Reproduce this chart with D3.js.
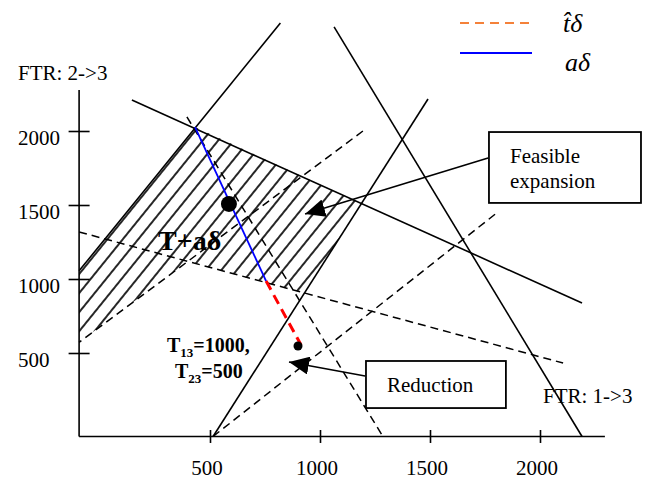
<!DOCTYPE html>
<html>
<head>
<meta charset="utf-8">
<script src="https://cdn.jsdelivr.net/npm/d3@7"></script>
<style>
    body { margin: 0; background: #fff; }
    svg { display: block; }
</style>
</head>
<body>
<svg id="chart" width="647" height="491" font-family="'Liberation Serif', 'DejaVu Serif', 'Times New Roman', Times, serif"></svg>
<script>
// tick values on both FTR axes
var xTicks = [500, 1000, 1500, 2000],
    yTicks = [500, 1000, 1500, 2000];

// constraint lines, [x1, y1, x2, y2] in FTR units (1->3, 2->3)
var solidLines = [
    [820, 2730, -95, 1055],
    [1064, 2703, 2191, -64],
    [145, 2209, 2191, 838],
    [1491, 2216, 514, -64]
];
var dashedLines = [
    [1195, 2000, -95, 572],
    [395, 2095, 1286, -64],
    [-95, 1318, 2105, 432],
    [514, -64, 1809, 1453]
];

// hatched feasible region
var feasibleRegion = [[-95, 1055], [432, 2027], [1188, 1510], [928, 904], [398, 1118], [-95, 572]];

// a*delta (blue) and t^*delta (red) segments
var aDelta = [[432, 2027], [755, 986]],
    tDelta = [[755, 986], [914, 554]];

var bigPoint = [586, 1507],
    smallPoint = [900, 547];

// annotation boxes [x1, y1, x2, y2] and their arrows
var expansionBox = [1768, 1993, 2459, 1514],
    reductionBox = [1209, 446, 1845, 128],
    expansionArrow = [[1764, 1818], [932, 1439]],
    reductionArrow = [[1205, 345], [859, 439]];

var axisMin = [-95, -64],
    axisMax = [2295, 2277];

var svg = d3.select("#chart");

var x = d3.scaleLinear().domain([500, 2000]).range([210, 540]),
    y = d3.scaleLinear().domain([500, 2000]).range([353, 131]);

var defs = svg.append("defs");

defs.append("pattern")
    .attr("id", "hatch")
    .attr("patternUnits", "userSpaceOnUse")
    .attr("width", 12)
    .attr("height", 12)
    .attr("patternTransform", "rotate(-51)")
    .append("line")
    .attr("x1", -1).attr("y1", 6)
    .attr("x2", 13).attr("y2", 6)
    .attr("stroke", "#000")
    .attr("stroke-width", 1.7);

defs.append("marker")
    .attr("id", "head")
    .attr("markerUnits", "userSpaceOnUse")
    .attr("viewBox", "0 0 20 18")
    .attr("refX", 20).attr("refY", 9)
    .attr("markerWidth", 20).attr("markerHeight", 18)
    .attr("orient", "auto")
    .append("path")
    .attr("d", "M0,0L20,9L0,18Z")
    .attr("fill", "#000");

var line = d3.line().x(function (d) { return x(d[0]); }).y(function (d) { return y(d[1]); });

// hatched region
svg.append("path")
    .attr("d", line(feasibleRegion) + "Z")
    .attr("fill", "url(#hatch)")
    .attr("stroke", "none");

// axes
svg.append("line")
    .attr("x1", x(axisMin[0])).attr("y1", y(axisMin[1]))
    .attr("x2", x(axisMax[0])).attr("y2", y(axisMin[1]))
    .attr("stroke", "#000").attr("stroke-width", 1.6);
svg.append("line")
    .attr("x1", x(axisMin[0])).attr("y1", y(axisMin[1]))
    .attr("x2", x(axisMin[0])).attr("y2", y(axisMax[1]))
    .attr("stroke", "#000").attr("stroke-width", 1.6);

svg.append("g")
    .attr("transform", "translate(0," + (y(axisMin[1]) - 6.5) + ")")
    .call(d3.axisBottom(x).tickValues(xTicks).tickSize(13).tickFormat(""))
    .call(function (g) {
        g.select(".domain").remove();
        g.selectAll("line").attr("stroke-width", 1.6);
    });
svg.append("g")
    .attr("transform", "translate(" + (x(axisMin[0]) + 10.5) + ",0)")
    .call(d3.axisLeft(y).tickValues(yTicks).tickSize(21).tickFormat(""))
    .call(function (g) {
        g.select(".domain").remove();
        g.selectAll("line").attr("stroke-width", 1.6);
    });

svg.selectAll(".xlab")
    .data(xTicks)
    .enter().append("text")
    .attr("x", function (d) { return x(d) - 3; })
    .attr("y", 475)
    .attr("text-anchor", "middle")
    .attr("font-size", 21)
    .text(function (d) { return d; });

svg.selectAll(".ylab")
    .data(yTicks)
    .enter().append("text")
    .attr("x", 18)
    .attr("y", function (d) { return y(d) + 14; })
    .attr("font-size", 21)
    .text(function (d) { return d; });

svg.append("text").attr("x", 18).attr("y", 80).attr("font-size", 21).text("FTR: 2->3");
svg.append("text").attr("x", 543).attr("y", 403).attr("font-size", 21).text("FTR: 1->3");

// constraint lines
svg.selectAll(".solid")
    .data(solidLines)
    .enter().append("line")
    .attr("x1", function (d) { return x(d[0]); })
    .attr("y1", function (d) { return y(d[1]); })
    .attr("x2", function (d) { return x(d[2]); })
    .attr("y2", function (d) { return y(d[3]); })
    .attr("stroke", "#000")
    .attr("stroke-width", 1.6);

svg.selectAll(".dashed")
    .data(dashedLines)
    .enter().append("line")
    .attr("x1", function (d) { return x(d[0]); })
    .attr("y1", function (d) { return y(d[1]); })
    .attr("x2", function (d) { return x(d[2]); })
    .attr("y2", function (d) { return y(d[3]); })
    .attr("stroke", "#000")
    .attr("stroke-width", 1.5)
    .attr("stroke-dasharray", "8,5");

svg.append("path")
    .attr("d", line(aDelta))
    .attr("fill", "none")
    .attr("stroke", "#0000ff")
    .attr("stroke-width", 1.8);
svg.append("path")
    .attr("d", line(tDelta))
    .attr("fill", "none")
    .attr("stroke", "#ff0000")
    .attr("stroke-width", 3)
    .attr("stroke-dasharray", "10,6");

svg.append("circle").attr("cx", x(bigPoint[0])).attr("cy", y(bigPoint[1])).attr("r", 8);
svg.append("circle").attr("cx", x(smallPoint[0])).attr("cy", y(smallPoint[1])).attr("r", 4.5);

// boxes and arrows
[expansionBox, reductionBox].forEach(function (b) {
    svg.append("rect")
        .attr("x", x(b[0])).attr("y", y(b[1]))
        .attr("width", x(b[2]) - x(b[0]))
        .attr("height", y(b[3]) - y(b[1]))
        .attr("fill", "#fff")
        .attr("stroke", "#000")
        .attr("stroke-width", 1.8);
});
[expansionArrow, reductionArrow].forEach(function (a) {
    svg.append("path")
        .attr("d", line(a))
        .attr("stroke", "#000")
        .attr("stroke-width", 1.6)
        .attr("marker-end", "url(#head)");
});

svg.append("text").attr("x", 510).attr("y", 163).attr("font-size", 21).text("Feasible");
svg.append("text").attr("x", 510).attr("y", 188).attr("font-size", 21).text("expansion");
svg.append("text").attr("x", 387).attr("y", 392).attr("font-size", 21).text("Reduction");

svg.append("text").attr("x", 158).attr("y", 250).attr("font-size", 28).attr("font-weight", "bold").text("T+a\u03b4");

var t13 = svg.append("text").attr("x", 167).attr("y", 352).attr("font-size", 20).attr("font-weight", "bold");
t13.append("tspan").text("T");
t13.append("tspan").attr("font-size", 13).attr("dy", 5).text("13");
t13.append("tspan").attr("dy", -5).text("=1000,");
var t23 = svg.append("text").attr("x", 175).attr("y", 378).attr("font-size", 20).attr("font-weight", "bold");
t23.append("tspan").text("T");
t23.append("tspan").attr("font-size", 13).attr("dy", 5).text("23");
t23.append("tspan").attr("dy", -5).text("=500");

// legend
svg.append("line")
    .attr("x1", 460).attr("y1", 23).attr("x2", 531).attr("y2", 23)
    .attr("stroke", "#f4813a").attr("stroke-width", 2).attr("stroke-dasharray", "9,6");
svg.append("line")
    .attr("x1", 460).attr("y1", 53).attr("x2", 532).attr("y2", 53)
    .attr("stroke", "#0000ff").attr("stroke-width", 2);
svg.append("text").attr("x", 563).attr("y", 32).attr("font-size", 26).attr("font-style", "italic").text("t\u0302\u03b4");
svg.append("text").attr("x", 565).attr("y", 71).attr("font-size", 26).attr("font-style", "italic").text("a\u03b4");
</script>
</body>
</html>
